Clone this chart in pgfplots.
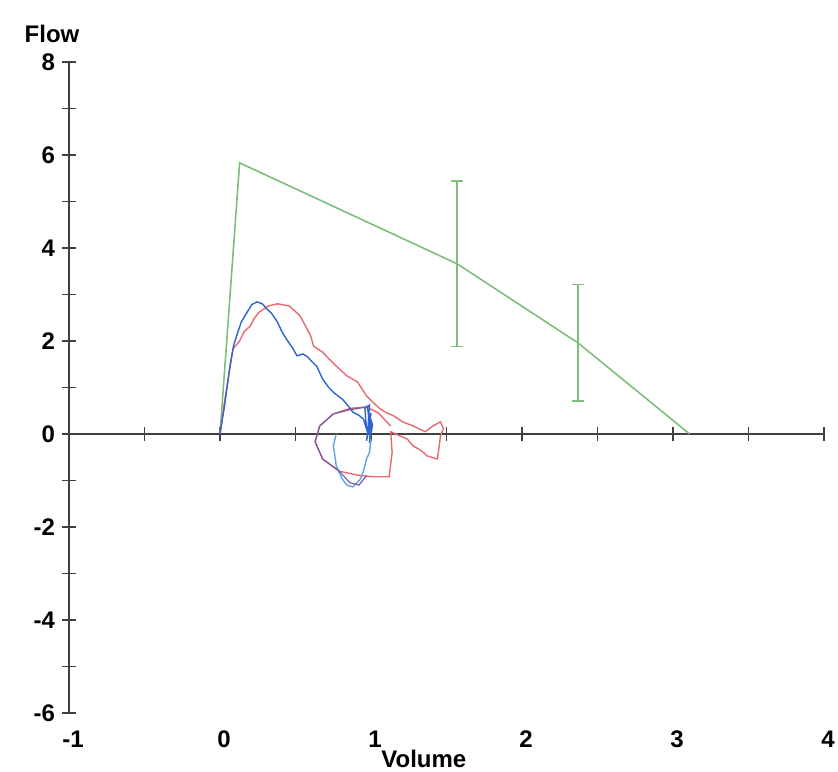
\documentclass[border=0pt]{standalone}
\usepackage{pgfplots}
\pgfplotsset{compat=1.18}
\usepackage{fontspec}
\setmainfont{Liberation Sans}
\definecolor{gline}{RGB}{125,190,125}
\definecolor{rline}{RGB}{230,105,115}
\definecolor{bline}{RGB}{45,100,205}
\definecolor{lbline}{RGB}{95,165,220}
\definecolor{pline}{RGB}{120,90,170}
\begin{document}
\begin{tikzpicture}
\begin{axis}[
 scale only axis, width=377.5pt, height=325.5pt,
 xmin=-1, xmax=4, ymin=-6, ymax=8,
 axis x line=middle, axis y line=left,
 hide obscured x ticks=false,
 axis line style={-, black!75, line width=0.8pt},
 xtick={-1,0,1,2,3,4}, minor xtick={-0.5,0.5,1.5,2.5,3.5},
 ytick={-6,-4,-2,0,2,4,6,8}, minor ytick={-5,-3,-1,1,3,5,7},
 tick align=center, major tick length=7pt, minor tick length=7pt,
 tick style={black!75, line width=0.8pt},
 xticklabel style={yshift=-141.5pt, xshift=2pt},
 ticklabel style={font=\fontsize{12}{14}\selectfont\bfseries},
 /pgf/number format/assume math mode=true,
 xlabel={Volume},
 every axis x label/.style={at={(axis description cs:0.47,0)}, anchor=north, yshift=-15pt, font=\fontsize{12}{14}\selectfont\bfseries},
 ylabel={Flow},
 every axis y label/.style={at={(axis description cs:0,1)}, anchor=south, xshift=-8.5pt, yshift=6pt, font=\fontsize{12}{14}\selectfont\bfseries},
 clip=false,
 ]
\coordinate (bl) at (rel axis cs:-0.0914,-0.0906);
\coordinate (tr) at (rel axis cs:1.0186,1.0952);
% green predicted loop
\addplot[gline, line width=0.8pt] coordinates {(0,0) (0.13,5.83) (1.57,3.66) (2.37,1.96) (3.11,0)};
\addplot[draw=none, mark=none,
  error bars/.cd, y dir=both, y explicit,
  error bar style={line width=0.8pt, gline},
  error mark options={rotate=90, mark size=3pt, gline, line width=0.8pt}]
  coordinates {(1.57,3.66) +- (0,1.78) (2.37,1.96) +- (0,1.25)};
% red loop
\addplot[rline, line width=0.7pt] coordinates {
 (0,0) (0.03,0.7) (0.06,1.3) (0.086,1.83) (0.13,2.0) (0.16,2.2) (0.20,2.32)
 (0.23,2.5) (0.26,2.62) (0.32,2.75) (0.38,2.80) (0.46,2.75) (0.53,2.54)
 (0.57,2.3) (0.60,2.11) (0.62,1.89) (0.65,1.82) (0.68,1.76) (0.72,1.62)
 (0.77,1.46) (0.84,1.25) (0.91,1.12) (0.97,0.82) (1.02,0.66) (1.06,0.54)
 (1.10,0.46) (1.15,0.39) (1.21,0.26) (1.28,0.17) (1.32,0.11) (1.36,0.05)
 (1.41,0.17) (1.46,0.26) (1.48,0.11) (1.46,-0.04) (1.45,-0.3) (1.44,-0.54)
 (1.37,-0.47) (1.33,-0.35) (1.28,-0.26) (1.24,-0.11) (1.19,-0.04) (1.13,0.05)
 (1.14,-0.4) (1.12,-0.92) (1.01,-0.92) (0.90,-0.88) (0.79,-0.80) (0.68,-0.54)
 (0.63,-0.17) (0.66,0.17) (0.75,0.43) (0.86,0.55) (0.97,0.58) (1.05,0.45) (1.13,0.17)};
% blue loop
\addplot[bline, line width=0.7pt] coordinates {
 (0,0) (0.03,0.6) (0.066,1.46) (0.09,1.9) (0.11,2.11) (0.14,2.4) (0.18,2.62)
 (0.21,2.78) (0.245,2.84) (0.28,2.8) (0.31,2.69) (0.34,2.6) (0.38,2.41)
 (0.41,2.2) (0.44,2.04) (0.48,1.85) (0.51,1.68) (0.55,1.72) (0.58,1.66)
 (0.61,1.55) (0.64,1.46) (0.68,1.18) (0.72,1.0) (0.75,0.90) (0.78,0.82)
 (0.81,0.75) (0.85,0.6) (0.88,0.47) (0.92,0.4) (0.95,0.32) (0.97,0.11)
 (0.96,0.55) (0.99,0.62) (0.98,0.1) (1.0,0.45) (0.97,-0.15) (1.0,0.3)
 (0.99,-0.2) (1.01,0.2) (0.98,0.5) (1.0,-0.1)};
\addplot[lbline, line width=0.7pt] coordinates {
 (1.0,-0.1) (0.99,-0.4) (0.97,-0.54) (0.95,-0.8) (0.93,-0.97) (0.88,-1.14)
 (0.84,-1.1) (0.81,-0.97) (0.77,-0.69) (0.76,-0.45) (0.75,-0.26) (0.77,0.0)};
\addplot[pline, line width=0.6pt] coordinates {
 (0.97,0.58) (0.86,0.52) (0.75,0.43) (0.66,0.17) (0.63,-0.17) (0.68,-0.54)
 (0.79,-0.80) (0.86,-1.05) (0.92,-1.1) (0.97,-0.9)};
\end{axis}
\pgfresetboundingbox
\useasboundingbox (bl) rectangle (tr);
\end{tikzpicture}
\end{document}
